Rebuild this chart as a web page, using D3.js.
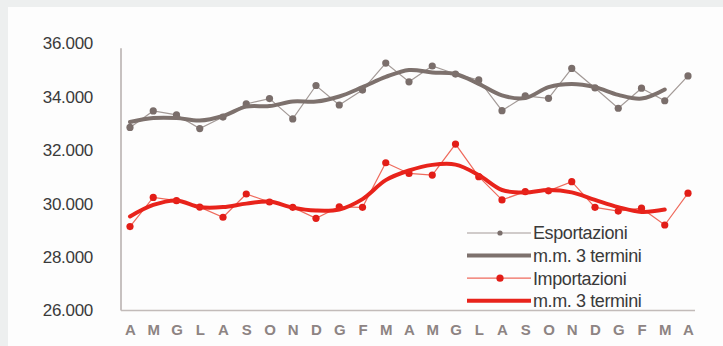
<!DOCTYPE html>
<html>
<head>
<meta charset="utf-8">
<script src="https://cdn.jsdelivr.net/npm/d3@7"></script>
<style>
  html, body { margin: 0; padding: 0; background: #edefef; }
  svg { display: block; }
</style>
</head>
<body>
<svg id="chart" width="723" height="346"></svg>
<script>
// Mesi (da aprile a aprile dell'anno successivo)
const months = ["A","M","G","L","A","S","O","N","D","G","F","M","A","M","G","L","A","S","O","N","D","G","F","M","A"];

// Esportazioni mensili (milioni di euro)
const exportValues = [32850,33470,33320,32810,33240,33730,33930,33170,34420,33690,34250,35260,34560,35150,34850,34630,33480,34030,33940,35060,34330,33570,34320,33850,34780];
// Media mobile a 3 termini delle esportazioni
const exportMA = [33055,33200,33200,33110,33280,33630,33650,33820,33820,34010,34360,34740,35000,34910,34850,34480,34050,33950,34360,34480,34360,34070,33930,34270];

// Importazioni mensili (milioni di euro)
const importValues = [29140,30230,30110,29870,29490,30360,30060,29860,29450,29880,29860,31530,31130,31070,32230,31010,30140,30450,30480,30820,29860,29720,29830,29200,30390];
// Media mobile a 3 termini delle importazioni
const importMA = [29520,29950,30120,29870,29870,30000,30080,29850,29740,29780,30170,30880,31240,31450,31460,31070,30510,30420,30510,30420,30140,29870,29690,29780];

const yTicks = [26000,28000,30000,32000,34000,36000];

const legendItems = [
  {label: "Esportazioni", kind: "thin", color: "grey"},
  {label: "m.m. 3 termini", kind: "thick", color: "grey"},
  {label: "Importazioni", kind: "thin", color: "red"},
  {label: "m.m. 3 termini", kind: "thick", color: "red"}
];

const palette = {
  grey: {thin: "#a39a97", thick: "#7d716d", dot: "#7a6e6b"},
  red:  {thin: "#ef6a5c", thick: "#e8231b", dot: "#e21d17"}
};

const svg = d3.select("#chart");

// white panel
svg.append("rect").attr("x", 8).attr("y", 7).attr("width", 715).attr("height", 339).attr("fill", "#fdfdfd");

const x = d3.scaleLinear().domain([0, months.length - 1]).range([130, 688]);
const y = d3.scaleLinear().domain([26000, 36000]).range([310.5, 43.3]);

const itFormat = d3.formatLocale({decimal: ",", thousands: ".", grouping: [3], currency: ["€", ""]}).format(",.0f");

// y axis labels
const yAxis = svg.append("g").attr("transform", "translate(121,0)")
  .call(d3.axisLeft(y).tickValues(yTicks).tickFormat(itFormat).tickSize(0).tickPadding(28));
yAxis.select(".domain").remove();
yAxis.selectAll("text")
  .attr("font-family", "Liberation Sans, Arial, sans-serif")
  .attr("font-size", 17).attr("fill", "#3a3a3a").attr("letter-spacing", -0.3);

// x axis labels
const xAxis = svg.append("g").attr("transform", "translate(0,310)")
  .call(d3.axisBottom(x).tickValues(d3.range(months.length)).tickFormat(i => months[i]).tickSize(0).tickPadding(14));
xAxis.select(".domain").remove();
xAxis.selectAll("text")
  .attr("font-family", "Liberation Sans, Arial, sans-serif")
  .attr("font-size", 15).attr("font-weight", "bold").attr("fill", "#8d8483");

// axis lines
svg.append("line").attr("x1", 121).attr("x2", 121).attr("y1", y(36000) + 5).attr("y2", y(26000))
  .attr("stroke", "#b5adab").attr("stroke-width", 1.5);
svg.append("line").attr("x1", 121).attr("x2", 695).attr("y1", y(26000)).attr("y2", y(26000))
  .attr("stroke", "#c2bbb9").attr("stroke-width", 1.5);

const thinLine = d3.line().x((d, i) => x(i)).y(d => y(d));
const smoothLine = d3.line().x((d, i) => x(i)).y(d => y(d)).curve(d3.curveCatmullRom.alpha(0.5));

function drawSeries(values, ma, col) {
  const c = palette[col];
  svg.append("path").datum(values).attr("d", thinLine)
    .attr("fill", "none").attr("stroke", c.thin).attr("stroke-width", 1.2);
  svg.append("g").selectAll("circle").data(values).join("circle")
    .attr("cx", (d, i) => x(i)).attr("cy", d => y(d)).attr("r", 3.6).attr("fill", c.dot);
  svg.append("path").datum(ma).attr("d", smoothLine)
    .attr("fill", "none").attr("stroke", c.thick).attr("stroke-width", 4)
    .attr("stroke-linejoin", "round").attr("stroke-linecap", "round");
}

drawSeries(exportValues, exportMA, "grey");
drawSeries(importValues, importMA, "red");

// legend
const legend = svg.append("g").attr("transform", "translate(467,233)");
legendItems.forEach((item, k) => {
  const g = legend.append("g").attr("transform", `translate(0,${k * 22.6})`);
  const c = palette[item.color];
  if (item.kind === "thin") {
    g.append("rect").attr("x", 0).attr("y", -6).attr("width", 64).attr("height", 12).attr("fill", "#fdfdfd");
    g.append("line").attr("x1", 0).attr("x2", 64).attr("stroke", c.thin).attr("stroke-width", 1.2);
    g.append("circle").attr("cx", 33).attr("r", item.color === "red" ? 3.6 : 2.6).attr("fill", c.dot);
  } else {
    g.append("rect").attr("x", 0).attr("y", -6).attr("width", 64).attr("height", 12).attr("fill", "#fdfdfd");
    g.append("line").attr("x1", 0).attr("x2", 64).attr("stroke", c.thick).attr("stroke-width", 4);
  }
  g.append("text").attr("x", 66).attr("dy", "0.35em").text(item.label)
    .attr("font-family", "Liberation Sans, Arial, sans-serif")
    .attr("font-size", 18).attr("letter-spacing", -0.4).attr("fill", "#3a3a3a");
});
</script>
</body>
</html>
